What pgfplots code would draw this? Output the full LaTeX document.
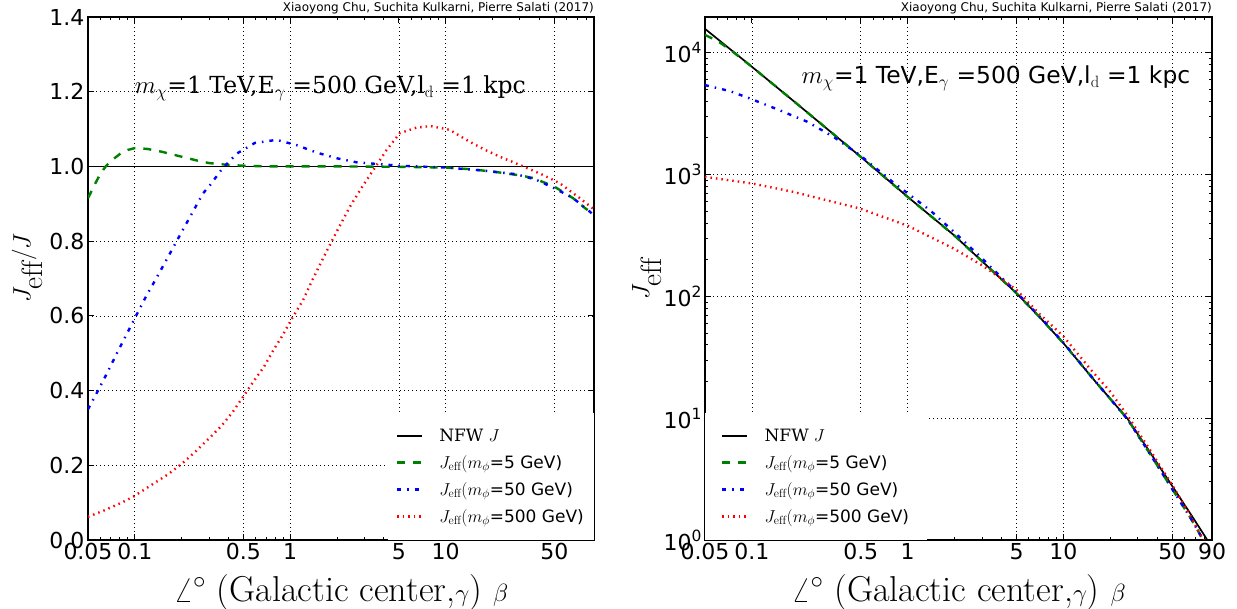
\documentclass[border=0pt]{standalone}
\usepackage{pgfplots}
\pgfplotsset{compat=1.18}
\usepackage{fontspec}
\newfontfamily\dvs{DejaVu Sans}
\newfontfamily\dvserif{DejaVu Serif}
\newcommand\pw[1]{10\raisebox{9pt}{\fontsize{15.5}{15.5}\selectfont #1}}
\definecolor{mgreen}{rgb}{0,0.5,0}
\pgfplotsset{
 myaxis/.style={
  scale only axis, anchor=south west,
  tick label style={font=\dvs\fontsize{22}{22}\selectfont},
  grid=major,
  major grid style={black, line width=0.6pt, dash pattern=on 1pt off 3pt},
  axis line style={line width=1.1pt},
  every tick/.style={black, line width=0.8pt},
  major tick length=6pt, minor tick length=3pt,
  tick align=inside,
  minor xtick={0.06,0.07,0.08,0.09,0.2,0.3,0.4,0.6,0.7,0.8,0.9,2,3,4,6,7,8,9,20,30,40,60,70,80},
  xlabel={$\angle^\circ$ (Galactic center,$\gamma$) $\beta$},
  xlabel style={at={(axis description cs:0.5,-0.101)}, anchor=center, font=\fontsize{36}{36}\selectfont},
  ylabel style={font=\fontsize{42}{42}\selectfont},
  legend style={draw=none, fill=white, font=\fontsize{17}{20}\selectfont, inner ysep=14pt, row sep=8.5pt,
    /tikz/every odd column/.append style={column sep=14pt}},
  legend cell align=left,
 },
 nfw/.style={black, line width=1.7pt},
 g5/.style={mgreen, line width=2.4pt, dash pattern=on 8pt off 8pt},
 b50/.style={blue, line width=2.4pt, dash pattern=on 4pt off 6pt on 1.5pt off 6pt},
 r500/.style={red, line width=2.4pt, dash pattern=on 1.5pt off 4pt},
 legend image code/.code={\draw[#1] (0pt,0pt) -- (25pt,0pt);},
}
\begin{document}
\begin{tikzpicture}
\useasboundingbox (0,0) rectangle (1237pt,609pt);
% ---------------- left panel ----------------
\begin{axis}[name=L, xmode=log, xmin=0.05, xmax=90, myaxis, at={(88pt,69pt)}, width=506pt, height=523pt,
  ymin=0, ymax=1.4,
  xtick={0.05,0.1,0.5,1,5,10,50}, xticklabels={0.05,0.1,0.5,1,5,10,50},
  ytick={0,0.2,0.4,0.6,0.8,1.0,1.2,1.4},
  yticklabels={0.0,0.2,0.4,0.6,0.8,1.0,1.2,1.4},
  ylabel={$J_{\mathrm{eff}}/J$},
  ylabel style={at={(axis description cs:-0.12,0.52)}, anchor=center},
  legend style={at={(1,0)}, anchor=south east, inner xsep=8pt},
]
\addplot[nfw] coordinates {(0.05,1) (90,1)};
\addlegendentry{{\dvserif NFW} $J$}
\addplot[g5] coordinates {
(0.05,0.915) (0.055,0.950) (0.06,0.980) (0.065,1.000) (0.07,1.014) (0.08,1.033) (0.09,1.044)
(0.1,1.049) (0.12,1.047) (0.15,1.039) (0.2,1.026) (0.25,1.016) (0.3,1.009) (0.4,1.004)
(0.5,1.002) (0.7,1.000) (1,1.000) (2,1.000) (5,0.999) (10,0.997) (15,0.992) (22,0.984)
(30,0.976) (36.5,0.969) (50,0.946) (66,0.915) (79,0.888) (90,0.872)};
\addlegendentry{$J_{\mathrm{eff}}(m_\phi${\dvs =5 GeV)}}
\addplot[b50] coordinates {
(0.05,0.350) (0.0582,0.401) (0.0675,0.453) (0.0776,0.504) (0.0897,0.555) (0.103,0.604)
(0.1195,0.656) (0.129,0.680) (0.15,0.729) (0.2,0.824) (0.25,0.897) (0.275,0.928) (0.305,0.950)
(0.367,0.995) (0.456,1.035) (0.593,1.063) (0.817,1.071) (1.10,1.057) (1.48,1.037) (1.99,1.022)
(2.67,1.011) (3.77,1.006) (5,1.002) (10,0.997) (17.4,0.989) (28.6,0.979) (38.4,0.964)
(50.4,0.941) (66.1,0.915) (84.6,0.879) (90,0.868)};
\addlegendentry{$J_{\mathrm{eff}}(m_\phi${\dvs =50 GeV)}}
\addplot[r500] coordinates {
(0.05,0.062) (0.0643,0.080) (0.0823,0.100) (0.0979,0.116) (0.131,0.150) (0.164,0.176)
(0.202,0.205) (0.249,0.239) (0.297,0.270) (0.362,0.306) (0.427,0.343) (0.499,0.384)
(0.579,0.424) (0.679,0.464) (0.781,0.509) (0.897,0.549) (1.023,0.592) (1.21,0.642)
(1.37,0.691) (1.7,0.770) (2.04,0.834) (2.42,0.892) (2.95,0.950) (3.42,0.990) (4.17,1.044)
(5.07,1.089) (6.5,1.104) (8.0,1.108) (10.6,1.098) (13.6,1.071) (17.4,1.047) (22.3,1.026)
(30,1.004) (42.4,0.977) (54.2,0.955) (73,0.915) (90,0.885)};
\addlegendentry{$J_{\mathrm{eff}}(m_\phi${\dvs =500 GeV)}}
\node[anchor=west, font=\fontsize{23.5}{23.5}\selectfont, inner sep=0pt] at (axis cs:0.1,1.21)
  {$m_\chi${\dvserif =1 TeV,E}$_\gamma${\dvserif\ =500 GeV,l}$_{\mathrm{d}}${\dvserif\ =1 kpc}};
\end{axis}
\node[anchor=base east, inner sep=0pt, font=\dvs\fontsize{12}{12}\selectfont] at ([yshift=5pt]L.north east)
  {Xiaoyong Chu, Suchita Kulkarni, Pierre Salati (2017)};
% ---------------- right panel ----------------
\begin{axis}[name=R, xmode=log, ymode=log, xmin=0.05, xmax=90, myaxis, at={(705pt,69pt)}, width=507pt, height=523pt,
  ymin=1, ymax=19650,
  xtick={0.05,0.1,0.5,1,5,10,50,90}, xticklabels={0.05,0.1,0.5,1,5,10,50,90},
  ytick={1,10,100,1000,10000},
  yticklabels={\pw{0},\pw{1},\pw{2},\pw{3},\pw{4}},
  minor ytick={2,3,4,5,6,7,8,9,20,30,40,50,60,70,80,90,200,300,400,500,600,700,800,900,2000,3000,4000,5000,6000,7000,8000,9000},
  ylabel={$J_{\mathrm{eff}}$},
  ylabel style={at={(axis description cs:-0.115,0.5)}, anchor=center},
  legend style={at={(0,0)}, anchor=south west, inner xsep=16pt},
]
\addplot[nfw] coordinates {
(0.05,15700) (0.1,7670) (0.2,3700) (0.5,1397) (1,656) (2,315) (5,106) (7.02,67.7)
(10.05,41) (16.2,19.7) (25.8,9.9) (35.6,5.36) (50.2,2.75) (65.9,1.62) (84,1.0) (88,0.9)};
\addlegendentry{{\dvserif NFW} $J$}
\addplot[g5] coordinates {
(0.05,14000) (0.06,12500) (0.07,10950) (0.08,9600) (0.1,7670) (0.2,3700) (0.5,1397) (1,656)
(2,315) (5,106) (7.02,67.7) (10.05,41) (16.2,19.7) (25.8,9.85) (35.6,5.2) (50.2,2.6)
(65.9,1.5) (79,1.0) (84,0.85)};
\addlegendentry{$J_{\mathrm{eff}}(m_\phi${\dvs =5 GeV)}}
\addplot[b50] coordinates {
(0.05,5420) (0.0723,4840) (0.0965,4220) (0.146,3430) (0.227,2710) (0.334,2040) (0.494,1442)
(0.80,871) (1.39,510) (2,335) (3,205) (5,108) (7,69) (10.05,41.5) (16.2,19.8) (25.8,9.8)
(35.6,5.2) (50.2,2.6) (65.9,1.5) (79,1.0) (84,0.85)};
\addlegendentry{$J_{\mathrm{eff}}(m_\phi${\dvs =50 GeV)}}
\addplot[r500] coordinates {
(0.05,957) (0.1,845) (0.184,721) (0.494,526) (1,380) (2,245) (3,180) (4,140) (5,113)
(7,72) (10,47) (15,25) (20,16.5) (25.8,10.5) (35.6,5.6) (50.2,2.8) (65.9,1.55) (79,1.0) (84,0.85)};
\addlegendentry{$J_{\mathrm{eff}}(m_\phi${\dvs =500 GeV)}}
\node[anchor=west, font=\fontsize{23.4}{23.4}\selectfont, inner sep=0pt] at (axis cs:0.208,6200)
  {$m_\chi${\dvs =1 TeV,E}$_\gamma${\dvs\ =500 GeV,l}$_{\mathrm{d}}${\dvs\ =1 kpc}};
\end{axis}
\node[anchor=base east, inner sep=0pt, font=\dvs\fontsize{12}{12}\selectfont] at ([yshift=5pt]R.north east)
  {Xiaoyong Chu, Suchita Kulkarni, Pierre Salati (2017)};
\end{tikzpicture}
\end{document}
